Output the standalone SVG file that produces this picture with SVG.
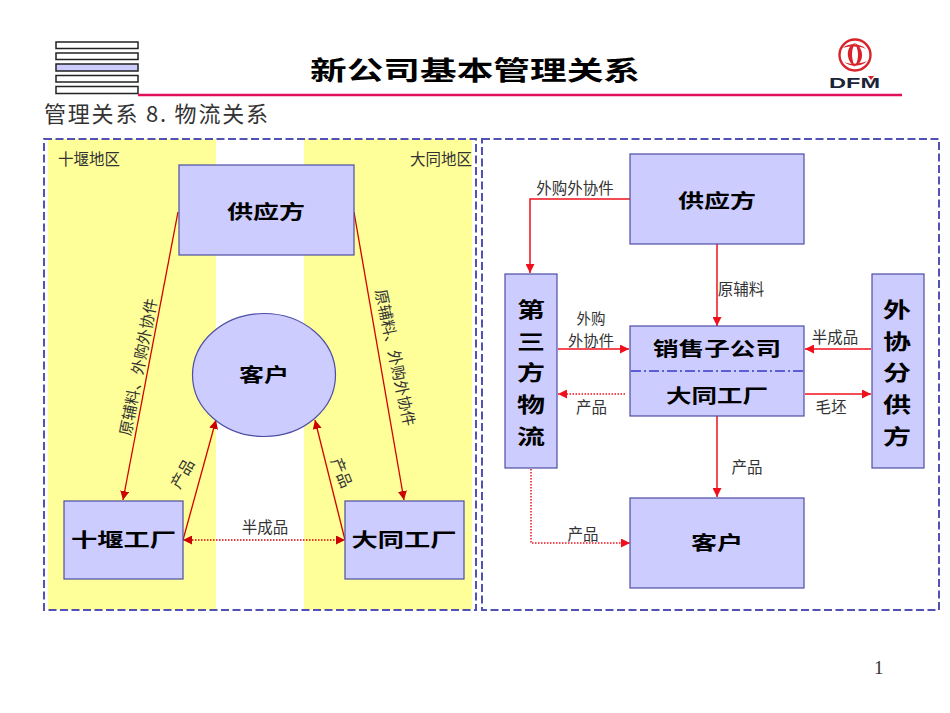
<svg xmlns="http://www.w3.org/2000/svg" width="950" height="713" viewBox="0 0 950 713">
<style>
text{font-family:"Noto Sans CJK SC","Liberation Sans",sans-serif;fill:#333}
.l{font-size:15.5px;text-anchor:middle}
.r{font-size:15.500px}
.n{font-size:19px;font-weight:700;text-anchor:middle;fill:#000}
.v{font-size:21px;font-weight:700;text-anchor:middle;fill:#000}
.b{fill:#ccccff;stroke:#4d4da6;stroke-width:1.2}
.bar{fill:#fff;stroke:#222;stroke-width:1.5}
.d{fill:none;stroke:#5252b4;stroke-width:2;stroke-dasharray:8 3.500}
.c{fill:none;stroke:#d40000;stroke-width:1.3}
.o{fill:none;stroke:#d40000;stroke-width:1.3;stroke-dasharray:1.5 1.5}
.e{fill:none;stroke:#f0101c;stroke-width:1.500}
.p{fill:none;stroke:#f0101c;stroke-width:1.500;stroke-dasharray:1.5 1.5}
</style>
<defs>
<marker id="a" viewBox="0 0 10 10" refX="10" refY="5" markerWidth="9" markerHeight="9" markerUnits="userSpaceOnUse" orient="auto-start-reverse"><path d="M0 0L10 5L0 10Z" fill="#cc0000"/></marker>
<marker id="f" viewBox="0 0 10 10" refX="10" refY="5" markerWidth="9" markerHeight="9" markerUnits="userSpaceOnUse" orient="auto"><path d="M0 0L10 5L0 10Z" fill="#f0101c"/></marker>
</defs>
<rect width="950" height="713" fill="#fff"/>
<g id="header">
<rect class="bar" x="56" y="42" width="82" height="6.500"/>
<rect class="bar" x="56" y="53" width="82" height="6.500"/>
<rect class="bar" x="56" y="64" width="82" height="7" style="fill:#ccccff"/>
<rect class="bar" x="56" y="75.500" width="82" height="6.500"/>
<rect class="bar" x="56" y="86.500" width="82" height="7"/>
<line x1="138" y1="95" x2="902" y2="95" stroke="#e0105a" stroke-width="2.600"/>
<text x="310" y="80" font-size="26" font-weight="700" textLength="330" lengthAdjust="spacingAndGlyphs" style="fill:#000">新公司基本管理关系</text>
<text x="44" y="122" font-size="22" textLength="224" lengthAdjust="spacing">管理关系 8. 物流关系</text>
</g>
<g id="logo">
<circle cx="855" cy="55" r="15.500" fill="none" stroke="#d8232a" stroke-width="2.400"/>
<path d="M855 43C846 46 845 60 855 67C851 58 851 50 855 43Z" fill="#d8232a"/>
<path d="M855 66C864 63 865 49 855 43C859 51 859 59 855 66Z" fill="#d8232a"/>
<path d="M843 48C848 43 860 43 866 49C860 46 850 46 843 48Z" fill="#d8232a"/>
<path d="M867 61C862 67 850 67 844 62C850 65 860 64 867 61Z" fill="#d8232a"/>
<text x="829" y="88" font-size="15" font-weight="700" textLength="51" lengthAdjust="spacingAndGlyphs" style="font-family:'Liberation Sans',sans-serif;fill:#1a2338">DFM</text>
<path d="M868 76L874 76L871 80Z" fill="#d8232a"/>
</g>
<g id="regions">
<rect x="48" y="139" width="168" height="471" fill="#ffff99"/>
<rect x="304" y="139" width="168" height="471" fill="#ffff99"/>
<rect class="d" x="44" y="139" width="432" height="471"/>
<rect class="d" x="482" y="139" width="457" height="471"/>
<text class="r" x="58" y="164.500">十堰地区</text>
<text class="r" x="410" y="164.500">大同地区</text>
</g>
<g id="connectors">
<path class="c" d="M178 212L123 500" marker-end="url(#a)"/>
<path class="c" d="M354 212L404 500" marker-end="url(#a)"/>
<path class="c" d="M183 540L216 420" marker-end="url(#a)"/>
<path class="c" d="M345 540L315 420" marker-end="url(#a)"/>
<path class="o" d="M183 540L345 540" marker-start="url(#a)" marker-end="url(#a)"/>
<path class="e" d="M630 199L530 199L530 273" marker-end="url(#f)"/>
<path class="e" d="M717 244L717 326" marker-end="url(#f)"/>
<path class="e" d="M558 349L629 349" marker-end="url(#f)"/>
<path class="p" d="M625 394L558 394" marker-end="url(#f)"/>
<path class="e" d="M871 349L805 349" marker-end="url(#f)"/>
<path class="e" d="M805 394L871 394" marker-end="url(#f)"/>
<path class="e" d="M717 416L717 497" marker-end="url(#f)"/>
<path class="p" d="M531 469L531 543L630 543" marker-end="url(#f)"/>
</g>
<g id="left-supplier"><rect class="b" x="179" y="165" width="175" height="90"/><text class="n" x="266" y="219" textLength="78" lengthAdjust="spacingAndGlyphs">供应方</text></g>
<g id="left-customer"><ellipse class="b" cx="264" cy="375" rx="71.500" ry="61.500"/><text class="n" x="264" y="382" textLength="50" lengthAdjust="spacingAndGlyphs">客户</text></g>
<g id="shiyan"><rect class="b" x="64" y="501" width="119" height="78"/><text class="n" x="123.500" y="547" textLength="105" lengthAdjust="spacingAndGlyphs">十堰工厂</text></g>
<g id="datong"><rect class="b" x="345" y="501" width="119" height="78"/><text class="n" x="404" y="547" textLength="105" lengthAdjust="spacingAndGlyphs">大同工厂</text></g>
<g id="right-supplier"><rect class="b" x="630" y="154" width="174" height="90"/><text class="n" x="717" y="208" textLength="78" lengthAdjust="spacingAndGlyphs">供应方</text></g>
<g id="logistics"><rect class="b" x="505" y="274" width="52" height="194"/>
<text class="v" x="531" y="317" textLength="28" lengthAdjust="spacingAndGlyphs">第</text><text class="v" x="531" y="349" textLength="28" lengthAdjust="spacingAndGlyphs">三</text><text class="v" x="531" y="380" textLength="28" lengthAdjust="spacingAndGlyphs">方</text><text class="v" x="531" y="412" textLength="28" lengthAdjust="spacingAndGlyphs">物</text><text class="v" x="531" y="444" textLength="28" lengthAdjust="spacingAndGlyphs">流</text></g>
<g id="sales"><rect class="b" x="630" y="326" width="174" height="90"/><text class="n" x="717" y="356" textLength="128" lengthAdjust="spacingAndGlyphs">销售子公司</text><text class="n" x="717" y="403" textLength="102" lengthAdjust="spacingAndGlyphs">大同工厂</text><line x1="631" y1="371" x2="803" y2="371" stroke="#3838c8" stroke-width="1.300" stroke-dasharray="10 3 2 3"/></g>
<g id="outsourcer"><rect class="b" x="872" y="274" width="52" height="194"/>
<text class="v" x="897" y="317" textLength="28" lengthAdjust="spacingAndGlyphs">外</text><text class="v" x="897" y="349" textLength="28" lengthAdjust="spacingAndGlyphs">协</text><text class="v" x="897" y="380" textLength="28" lengthAdjust="spacingAndGlyphs">分</text><text class="v" x="897" y="412" textLength="28" lengthAdjust="spacingAndGlyphs">供</text><text class="v" x="897" y="444" textLength="28" lengthAdjust="spacingAndGlyphs">方</text></g>
<g id="right-customer"><rect class="b" x="630" y="498" width="174" height="90"/><text class="n" x="717" y="550" textLength="52" lengthAdjust="spacingAndGlyphs">客户</text></g>
<g id="labels">
<text class="l" transform="translate(139 367) rotate(-79)" y="5">原辅料、外购外协件</text>
<text class="l" transform="translate(394.500 358) rotate(78)" y="5">原辅料、外购外协件</text>
<text class="l" transform="translate(183 474) rotate(-60)" y="5">产品</text>
<text class="l" transform="translate(341 473) rotate(68)" y="5">产品</text>
<text class="l" x="265" y="533">半成品</text>
<text class="l" x="575" y="194">外购外协件</text>
<text class="l" x="741" y="295">原辅料</text>
<text class="l" x="591" y="324" style="font-size:14.500px">外购</text>
<text class="l" x="591" y="345.500" style="font-size:14.500px" textLength="46" lengthAdjust="spacingAndGlyphs">外协件</text>
<text class="l" x="835" y="343">半成品</text>
<text class="l" x="591.500" y="413">产品</text>
<text class="l" x="831" y="413">毛坯</text>
<text class="l" x="747" y="473">产品</text>
<text class="l" x="583" y="540">产品</text>
<text x="874" y="674" font-size="19" style="font-family:'Liberation Serif',serif">1</text>
</g>
</svg>
